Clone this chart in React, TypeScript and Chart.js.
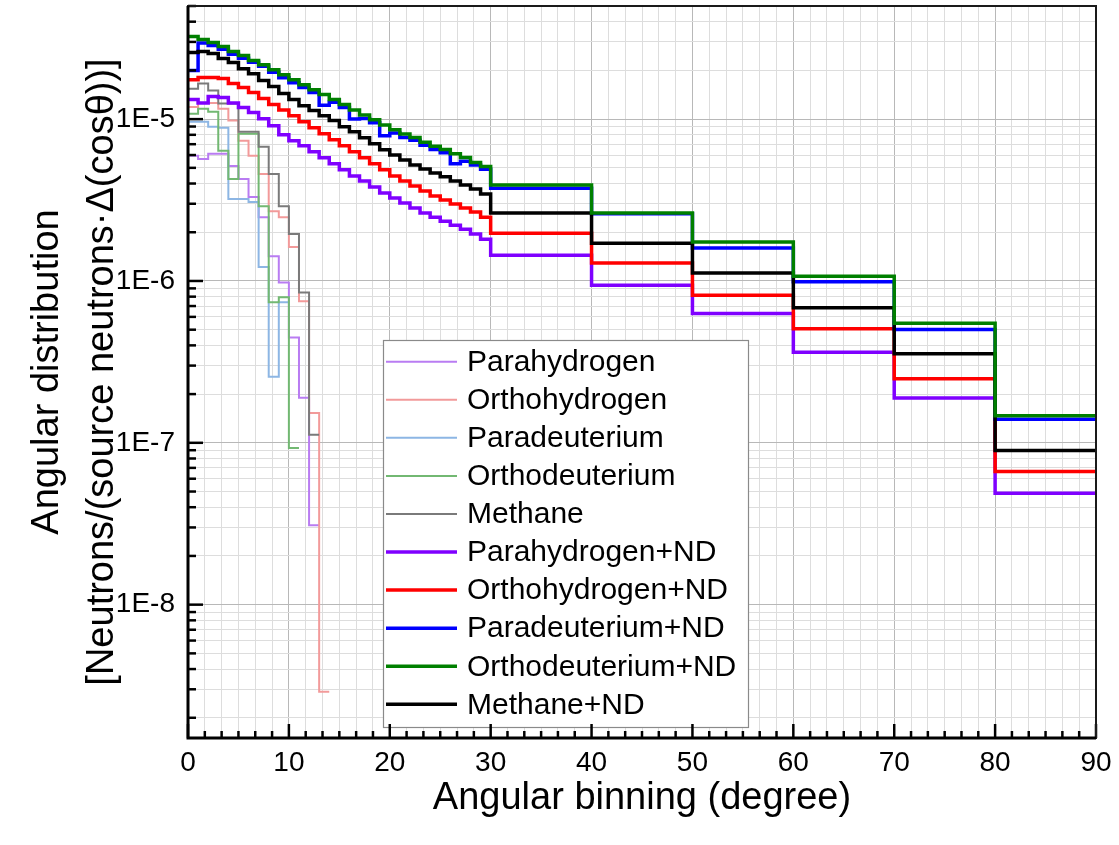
import React, { useEffect, useRef } from 'react';
import { Chart, registerables } from 'chart.js';
Chart.register(...registerables);

const FONT = '"Liberation Sans", Arial, Helvetica, sans-serif';

// bin edges (degree)
const ndEdges = [0, 1, 2, 3, 4, 5, 6, 7, 8, 9, 10, 11, 12, 13, 14, 15, 16, 17, 18, 19, 20, 21, 22, 23, 24, 25, 26, 27, 28, 29, 30, 40, 50, 60, 70, 80, 90];
const thinEdges = [0, 1, 2, 3, 4, 5, 6, 7, 8, 9, 10, 11, 12, 13, 14];

// values per bin
const paraHydrogen = [5.93e-6, 5.68e-6, 6.1e-6, 6.1e-6, 5.14e-6, 4.27e-6, 3.3e-6, 2.48e-6, 1.42e-6, 9.8e-7, 4.48e-7, 1.9e-7, 3.1e-8];
const orthoHydrogen = [1.19e-5, 1.26e-5, 1.26e-5, 1.16e-5, 9.8e-6, 7.34e-6, 5.93e-6, 4.58e-6, 2.7e-6, 2.48e-6, 1.62e-6, 7.5e-7, 1.53e-7, 2.9e-9];
const paraDeuterium = [9.64e-6, 9.64e-6, 8.97e-6, 8.85e-6, 3.21e-6, 3.21e-6, 3.08e-6, 1.22e-6, 2.56e-7, 7.38e-7];
const orthoDeuterium = [1.08e-5, 1.16e-5, 1.11e-5, 6.37e-6, 4.27e-6, 8.12e-6, 8.12e-6, 2.9e-6, 7.38e-7, 7.92e-7, 9.3e-8];
const methane = [1.54e-5, 1.66e-5, 1.5e-5, 1.25e-5, 1.25e-5, 8.36e-6, 8.36e-6, 6.74e-6, 4.58e-6, 2.9e-6, 1.95e-6, 8.5e-7, 1.12e-7];

const paraHydrogenND = [1.32e-5, 1.26e-5, 1.38e-5, 1.36e-5, 1.26e-5, 1.18e-5, 1.1e-5, 1.005e-5, 9.1e-6, 8.0e-6, 7.34e-6, 6.84e-6, 6.28e-6, 5.77e-6, 5.3e-6, 4.86e-6, 4.46e-6, 4.15e-6, 3.81e-6, 3.5e-6, 3.26e-6, 3.03e-6, 2.82e-6, 2.63e-6, 2.48e-6, 2.34e-6, 2.21e-6, 2.09e-6, 1.95e-6, 1.81e-6, 1.443e-6, 9.4e-7, 6.3e-7, 3.63e-7, 1.89e-7, 4.88e-8];
const orthoHydrogenND = [1.75e-5, 1.81e-5, 1.81e-5, 1.78e-5, 1.66e-5, 1.57e-5, 1.46e-5, 1.34e-5, 1.23e-5, 1.14e-5, 1.05e-5, 9.64e-6, 8.85e-6, 8.12e-6, 7.45e-6, 6.84e-6, 6.28e-6, 5.77e-6, 5.3e-6, 4.86e-6, 4.46e-6, 4.15e-6, 3.86e-6, 3.6e-6, 3.35e-6, 3.16e-6, 2.99e-6, 2.82e-6, 2.67e-6, 2.48e-6, 1.975e-6, 1.29e-6, 8.15e-7, 5.07e-7, 2.49e-7, 6.64e-8];
const paraDeuteriumND = [2.0e-5, 2.95e-5, 2.85e-5, 2.7e-5, 2.52e-5, 2.38e-5, 2.25e-5, 2.12e-5, 1.95e-5, 1.8e-5, 1.68e-5, 1.57e-5, 1.46e-5, 1.22e-5, 1.27e-5, 1.18e-5, 1.0e-5, 1.01e-5, 9.5e-6, 7.9e-6, 8.2e-6, 7.7e-6, 7.4e-6, 6.9e-6, 6.5e-6, 6.2e-6, 5.3e-6, 5.5e-6, 5.2e-6, 4.9e-6, 3.74e-6, 2.6e-6, 1.6e-6, 9.9e-7, 5.02e-7, 1.4e-7];
const orthoDeuteriumND = [3.24e-5, 3.1e-5, 2.98e-5, 2.81e-5, 2.62e-5, 2.47e-5, 2.3e-5, 2.17e-5, 2.02e-5, 1.88e-5, 1.75e-5, 1.63e-5, 1.52e-5, 1.42e-5, 1.32e-5, 1.23e-5, 1.14e-5, 1.06e-5, 9.9e-6, 9.2e-6, 8.6e-6, 8.1e-6, 7.7e-6, 7.2e-6, 6.8e-6, 6.5e-6, 6.1e-6, 5.8e-6, 5.4e-6, 5.1e-6, 3.92e-6, 2.63e-6, 1.74e-6, 1.07e-6, 5.47e-7, 1.47e-7];
const methaneND = [2.58e-5, 2.62e-5, 2.54e-5, 2.37e-5, 2.24e-5, 2.05e-5, 1.91e-5, 1.73e-5, 1.59e-5, 1.44e-5, 1.32e-5, 1.21e-5, 1.13e-5, 1.05e-5, 9.8e-6, 8.97e-6, 8.36e-6, 7.67e-6, 7.04e-6, 6.46e-6, 6.01e-6, 5.6e-6, 5.21e-6, 4.92e-6, 4.65e-6, 4.4e-6, 4.15e-6, 3.92e-6, 3.7e-6, 3.45e-6, 2.63e-6, 1.71e-6, 1.12e-6, 6.84e-7, 3.55e-7, 8.96e-8];

const seriesLabels = ['Parahydrogen', 'Orthohydrogen', 'Paradeuterium', 'Orthodeuterium', 'Methane', 'Parahydrogen+ND', 'Orthohydrogen+ND', 'Paradeuterium+ND', 'Orthodeuterium+ND', 'Methane+ND'];
const seriesValues = [paraHydrogen, orthoHydrogen, paraDeuterium, orthoDeuterium, methane, paraHydrogenND, orthoHydrogenND, paraDeuteriumND, orthoDeuteriumND, methaneND];
const seriesEdges = [thinEdges, thinEdges, thinEdges, thinEdges, thinEdges, ndEdges, ndEdges, ndEdges, ndEdges, ndEdges];
const seriesColors = ['#b97cf2', '#f29a9a', '#8db6e4', '#72b872', '#7a7a7a', '#7f00ff', '#ff0000', '#0000ff', '#008000', '#000000'];
const seriesWidths = [2, 2, 2, 2, 2, 3.5, 3.5, 3.5, 3.5, 3.5];
const seriesOrder = [14, 13, 12, 11, 10, 5, 4, 3, 1, 2];

const xTickLabels = ['0', '10', '20', '30', '40', '50', '60', '70', '80', '90'];
const yTickLabels = ['1E-8', '1E-7', '1E-6', '1E-5'];

const Y_MIN = 1.5e-9;
const Y_MAX = 5e-5;

const isMajorX = (v: number) => Math.abs(v / 10 - Math.round(v / 10)) < 1e-6;
const isMajorY = (v: number) => Math.abs(Math.log10(v) - Math.round(Math.log10(v))) < 1e-6;

const decorPlugin = {
  id: 'decor',
  afterDatasetsDraw(chart: any) {
    const { ctx, chartArea: a, scales } = chart;
    const xs = scales.x;
    const ys = scales.y;
    ctx.save();
    // legend
    const bx = 383, by = 340, bw = 365, bh = 387;
    ctx.fillStyle = '#ffffff';
    ctx.fillRect(bx, by, bw, bh);
    ctx.strokeStyle = '#8a8a8a';
    ctx.lineWidth = 1.2;
    ctx.strokeRect(bx + 0.5, by + 0.5, bw, bh);
    ctx.font = `30px ${FONT}`;
    ctx.textBaseline = 'middle';
    ctx.textAlign = 'left';
    seriesLabels.forEach((lab, i) => {
      const cy = 361.7 + i * 38.07;
      ctx.strokeStyle = seriesColors[i];
      ctx.lineWidth = seriesWidths[i];
      ctx.beginPath();
      ctx.moveTo(386, cy);
      ctx.lineTo(457, cy);
      ctx.stroke();
      ctx.fillStyle = '#000';
      ctx.fillText(lab, 467, cy + 1);
    });
    // inward ticks
    ctx.strokeStyle = '#000';
    ctx.lineWidth = 2.5;
    xs.ticks.forEach((t: any) => {
      const px = xs.getPixelForValue(t.value);
      const len = isMajorX(t.value) ? 14 : 7;
      ctx.beginPath();
      ctx.moveTo(px, a.bottom);
      ctx.lineTo(px, a.bottom - len);
      ctx.stroke();
    });
    ys.ticks.forEach((t: any) => {
      const py = ys.getPixelForValue(t.value);
      const len = isMajorY(t.value) ? 15 : 8;
      ctx.beginPath();
      ctx.moveTo(a.left, py);
      ctx.lineTo(a.left + len, py);
      ctx.stroke();
    });
    // frame
    ctx.strokeStyle = '#1a1a1a';
    ctx.lineWidth = 2;
    ctx.strokeRect(a.left, a.top, a.right - a.left, a.bottom - a.top);
    ctx.strokeStyle = '#000';
    ctx.lineWidth = 3;
    ctx.beginPath();
    ctx.moveTo(a.left, a.top);
    ctx.lineTo(a.left, a.bottom);
    ctx.lineTo(a.right, a.bottom);
    ctx.stroke();
    ctx.restore();
  },
};

export default function App() {
  const ref = useRef<HTMLCanvasElement | null>(null);
  useEffect(() => {
    if (!ref.current) return;
    const datasets = seriesLabels.map((label, i) => {
      const vals = seriesValues[i];
      const edges = seriesEdges[i];
      const pts = vals.map((v, k) => ({ x: edges[k], y: v }));
      pts.push({ x: edges[vals.length], y: vals[vals.length - 1] });
      return {
        label,
        data: pts,
        borderColor: seriesColors[i],
        backgroundColor: seriesColors[i],
        borderWidth: seriesWidths[i],
        pointRadius: 0,
        fill: false,
        stepped: true as const,
        tension: 0,
        order: seriesOrder[i],
        borderJoinStyle: 'miter' as const,
      };
    });
    const chart = new Chart(ref.current, {
      type: 'line',
      data: { datasets },
      plugins: [decorPlugin],
      options: {
        animation: false,
        responsive: false,
        devicePixelRatio: 1,
        layout: { padding: { top: 6, right: 23, left: 0, bottom: 0 } },
        plugins: { legend: { display: false }, tooltip: { enabled: false } },
        scales: {
          x: {
            type: 'linear',
            min: 0,
            max: 90,
            afterBuildTicks: (s: any) => {
              const t = [];
              for (let i = 0; i <= 54; i++) t.push({ value: (i * 10) / 6 });
              s.ticks = t;
            },
            afterFit: (s: any) => {
              s.height = 107;
              s.paddingLeft = 0;
              s.paddingRight = 0;
            },
            ticks: {
              autoSkip: false,
              maxRotation: 0,
              padding: 8,
              color: '#000',
              font: { family: FONT, size: 28 },
              callback: (v: any) => (isMajorX(v) ? xTickLabels[Math.round(v / 10)] : ''),
            },
            grid: {
              drawTicks: false,
              color: (c: any) => (c.tick && isMajorX(c.tick.value) ? '#b8b8b8' : '#dddddd'),
              lineWidth: 1,
            },
            border: { display: false },
            title: {
              display: true,
              text: 'Angular binning (degree)',
              color: '#000',
              font: { family: FONT, size: 38 },
              padding: { top: 0, bottom: 24 },
            },
          },
          y: {
            type: 'logarithmic',
            min: Y_MIN,
            max: Y_MAX,
            afterBuildTicks: (s: any) => {
              const t = [];
              for (let e = -9; e <= -5; e++) {
                for (let m = 1; m <= 9; m++) {
                  const v = m * Math.pow(10, e);
                  if (v >= Y_MIN * 0.999 && v <= Y_MAX * 1.001) t.push({ value: v });
                }
              }
              s.ticks = t;
            },
            afterFit: (s: any) => {
              s.width = 188;
              s.paddingTop = 0;
              s.paddingBottom = 0;
            },
            ticks: {
              autoSkip: false,
              padding: 13,
              color: '#000',
              font: { family: FONT, size: 28 },
              callback: (v: any) => {
                if (!isMajorY(v)) return '';
                const e = Math.round(Math.log10(v));
                const idx = e + 8;
                return idx >= 0 && idx < yTickLabels.length ? yTickLabels[idx] : '';
              },
            },
            grid: {
              drawTicks: false,
              color: (c: any) => (c.tick && isMajorY(c.tick.value) ? '#b8b8b8' : '#dddddd'),
              lineWidth: 1,
            },
            border: { display: false },
            title: {
              display: true,
              text: ['Angular distribution', '[Neutrons/(source neutrons\u00b7\u0394(cos\u03b8))]'],
              color: '#000',
              font: { family: FONT, size: 38, lineHeight: 1.45 },
              padding: { top: 20, bottom: 0 },
            },
          },
        },
      },
    });
    return () => chart.destroy();
  }, []);
  return (
    <div style={{ position: 'fixed', left: 0, top: 0, width: 1119, height: 845, background: '#fff' }}>
      <canvas ref={ref} width={1119} height={845} style={{ width: 1119, height: 845, display: 'block' }} />
    </div>
  );
}
